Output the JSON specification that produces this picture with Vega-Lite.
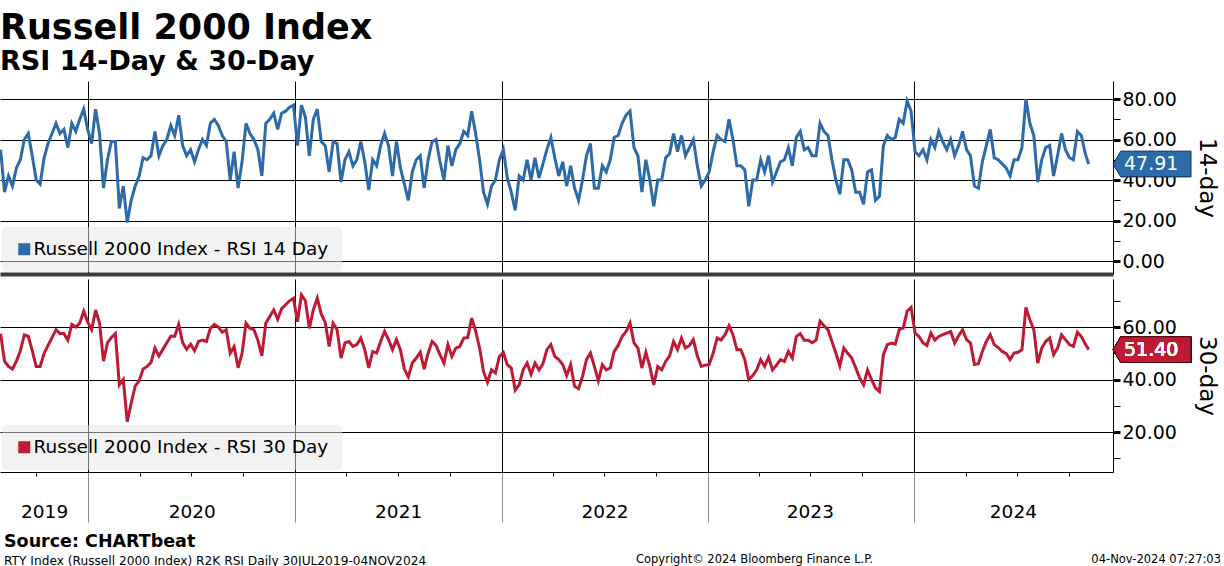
{
"$schema": "https://vega.github.io/schema/vega-lite/v6.json",
"background": "white",
"padding": {"top": 11, "left": 0, "right": 0, "bottom": 0},
"title": {"text": "Russell 2000 Index", "subtitle": "RSI 14-Day & 30-Day", "anchor": "start", "font": "DejaVu Sans", "fontSize": 35, "fontWeight": "bold", "color": "black", "subtitleFont": "DejaVu Sans", "subtitleFontSize": 27, "subtitleFontWeight": "bold", "subtitleColor": "black", "subtitlePadding": 3, "offset": 6},
"datasets": {
"rsi": [
{"date":"2019-07-30","rsi14":55,"rsi30":57.5},{"date":"2019-08-06","rsi14":34,"rsi30":47},{"date":"2019-08-13","rsi14":42,"rsi30":45},{"date":"2019-08-20","rsi14":37,"rsi30":44},{"date":"2019-08-27","rsi14":46,"rsi30":47},{"date":"2019-09-03","rsi14":50,"rsi30":51},{"date":"2019-09-10","rsi14":60,"rsi30":57},{"date":"2019-09-17","rsi14":63,"rsi30":56.5},{"date":"2019-09-24","rsi14":52,"rsi30":51},{"date":"2019-10-01","rsi14":40,"rsi30":45},{"date":"2019-10-08","rsi14":38,"rsi30":45},{"date":"2019-10-15","rsi14":51,"rsi30":50},{"date":"2019-10-22","rsi14":58,"rsi30":53},{"date":"2019-10-29","rsi14":63,"rsi30":56},{"date":"2019-11-05","rsi14":68,"rsi30":59},{"date":"2019-11-12","rsi14":63,"rsi30":57.5},{"date":"2019-11-19","rsi14":65,"rsi30":57.5},{"date":"2019-11-26","rsi14":56,"rsi30":55},{"date":"2019-12-03","rsi14":68,"rsi30":61},{"date":"2019-12-10","rsi14":64,"rsi30":60},{"date":"2019-12-17","rsi14":70,"rsi30":61.5},{"date":"2019-12-24","rsi14":75,"rsi30":66},{"date":"2019-12-31","rsi14":65,"rsi30":62},
{"date":"2020-01-07","rsi14":58,"rsi30":59},{"date":"2020-01-14","rsi14":75,"rsi30":66.5},{"date":"2020-01-21","rsi14":63,"rsi30":61.5},{"date":"2020-01-28","rsi14":36,"rsi30":47},{"date":"2020-02-04","rsi14":50,"rsi30":54},{"date":"2020-02-11","rsi14":59,"rsi30":56},{"date":"2020-02-18","rsi14":59,"rsi30":57.5},{"date":"2020-02-25","rsi14":26,"rsi30":38},{"date":"2020-03-03","rsi14":37,"rsi30":40},{"date":"2020-03-10","rsi14":19,"rsi30":24},{"date":"2020-03-17","rsi14":30,"rsi30":31},{"date":"2020-03-24","rsi14":37,"rsi30":37.5},{"date":"2020-03-31","rsi14":42,"rsi30":39.5},{"date":"2020-04-07","rsi14":51,"rsi30":44},{"date":"2020-04-14","rsi14":50,"rsi30":45},{"date":"2020-04-21","rsi14":52,"rsi30":46.5},{"date":"2020-04-28","rsi14":64,"rsi30":52},{"date":"2020-05-05","rsi14":52,"rsi30":49},{"date":"2020-05-12","rsi14":57,"rsi30":51.5},{"date":"2020-05-19","rsi14":60,"rsi30":54},{"date":"2020-05-26","rsi14":67,"rsi30":56.5},{"date":"2020-06-02","rsi14":62,"rsi30":56.5},{"date":"2020-06-09","rsi14":72,"rsi30":61},{"date":"2020-06-16","rsi14":57,"rsi30":54},{"date":"2020-06-23","rsi14":52,"rsi30":51.5},{"date":"2020-06-30","rsi14":55,"rsi30":53.5},{"date":"2020-07-07","rsi14":49,"rsi30":51},{"date":"2020-07-14","rsi14":55,"rsi30":54.5},{"date":"2020-07-21","rsi14":60,"rsi30":55},{"date":"2020-07-28","rsi14":57,"rsi30":54.5},{"date":"2020-08-04","rsi14":68,"rsi30":59.5},{"date":"2020-08-11","rsi14":70,"rsi30":61},{"date":"2020-08-18","rsi14":67,"rsi30":60},{"date":"2020-08-25","rsi14":62,"rsi30":58},{"date":"2020-09-01","rsi14":59,"rsi30":59},{"date":"2020-09-08","rsi14":40,"rsi30":50},{"date":"2020-09-15","rsi14":54,"rsi30":52.5},{"date":"2020-09-22","rsi14":36,"rsi30":44.5},{"date":"2020-09-29","rsi14":49,"rsi30":50},{"date":"2020-10-06","rsi14":68,"rsi30":61.5},{"date":"2020-10-13","rsi14":63,"rsi30":59.5},{"date":"2020-10-20","rsi14":60,"rsi30":59},{"date":"2020-10-27","rsi14":55,"rsi30":55},{"date":"2020-11-03","rsi14":42,"rsi30":49},{"date":"2020-11-10","rsi14":68,"rsi30":61.5},{"date":"2020-11-17","rsi14":70,"rsi30":64},{"date":"2020-11-24","rsi14":73,"rsi30":66.5},{"date":"2020-12-01","rsi14":65,"rsi30":63},{"date":"2020-12-08","rsi14":73,"rsi30":67},{"date":"2020-12-15","rsi14":74,"rsi30":68.5},{"date":"2020-12-22","rsi14":76,"rsi30":70},{"date":"2020-12-29","rsi14":77,"rsi30":71},
{"date":"2021-01-05","rsi14":57,"rsi30":62},{"date":"2021-01-12","rsi14":77,"rsi30":72.3},{"date":"2021-01-19","rsi14":71,"rsi30":70},{"date":"2021-01-26","rsi14":52,"rsi30":59.5},{"date":"2021-02-02","rsi14":70,"rsi30":66.5},{"date":"2021-02-09","rsi14":75,"rsi30":71},{"date":"2021-02-16","rsi14":59,"rsi30":65},{"date":"2021-02-23","rsi14":57,"rsi30":61.8},{"date":"2021-03-02","rsi14":44,"rsi30":52.6},{"date":"2021-03-09","rsi14":59,"rsi30":61.5},{"date":"2021-03-16","rsi14":58,"rsi30":59},{"date":"2021-03-23","rsi14":39,"rsi30":48.2},{"date":"2021-03-30","rsi14":50,"rsi30":54},{"date":"2021-04-06","rsi14":54,"rsi30":54.5},{"date":"2021-04-13","rsi14":47,"rsi30":52.6},{"date":"2021-04-20","rsi14":50,"rsi30":53.3},{"date":"2021-04-27","rsi14":59,"rsi30":55.8},{"date":"2021-05-04","rsi14":49,"rsi30":51.4},{"date":"2021-05-11","rsi14":35,"rsi30":44.4},{"date":"2021-05-18","rsi14":50,"rsi30":50.7},{"date":"2021-05-25","rsi14":47,"rsi30":50.1},{"date":"2021-06-01","rsi14":57,"rsi30":54.5},{"date":"2021-06-08","rsi14":63,"rsi30":58.3},{"date":"2021-06-15","rsi14":57,"rsi30":55.2},{"date":"2021-06-22","rsi14":42,"rsi30":51.4},{"date":"2021-06-29","rsi14":59,"rsi30":55.2},{"date":"2021-07-06","rsi14":46,"rsi30":51.4},{"date":"2021-07-13","rsi14":38,"rsi30":44},{"date":"2021-07-20","rsi14":30,"rsi30":41},{"date":"2021-07-27","rsi14":44,"rsi30":46.3},{"date":"2021-08-03","rsi14":50,"rsi30":48.2},{"date":"2021-08-10","rsi14":52,"rsi30":50.4},{"date":"2021-08-17","rsi14":36,"rsi30":44},{"date":"2021-08-24","rsi14":50,"rsi30":50.1},{"date":"2021-08-31","rsi14":59,"rsi30":54.5},{"date":"2021-09-07","rsi14":60,"rsi30":53},{"date":"2021-09-14","rsi14":49,"rsi30":49.5},{"date":"2021-09-21","rsi14":40,"rsi30":46.3},{"date":"2021-09-28","rsi14":57,"rsi30":53.3},{"date":"2021-10-05","rsi14":47,"rsi30":48.8},{"date":"2021-10-12","rsi14":55,"rsi30":52},{"date":"2021-10-19","rsi14":58,"rsi30":52.6},{"date":"2021-10-26","rsi14":64,"rsi30":55.8},{"date":"2021-11-02","rsi14":62,"rsi30":56},{"date":"2021-11-09","rsi14":74,"rsi30":63.4},{"date":"2021-11-16","rsi14":63,"rsi30":58.5},{"date":"2021-11-23","rsi14":50,"rsi30":52},{"date":"2021-11-30","rsi14":34,"rsi30":43},{"date":"2021-12-07","rsi14":28,"rsi30":39},{"date":"2021-12-14","rsi14":37,"rsi30":43.7},{"date":"2021-12-21","rsi14":40,"rsi30":42.5},{"date":"2021-12-28","rsi14":50,"rsi30":48.8},
{"date":"2022-01-04","rsi14":55,"rsi30":50.3},{"date":"2022-01-11","rsi14":41,"rsi30":45.7},{"date":"2022-01-18","rsi14":34,"rsi30":44.4},{"date":"2022-01-25","rsi14":25,"rsi30":36},{"date":"2022-02-01","rsi14":42,"rsi30":38},{"date":"2022-02-08","rsi14":40,"rsi30":43.7},{"date":"2022-02-15","rsi14":50,"rsi30":46.3},{"date":"2022-02-22","rsi14":40,"rsi30":42},{"date":"2022-03-01","rsi14":51,"rsi30":46.3},{"date":"2022-03-08","rsi14":41,"rsi30":43.7},{"date":"2022-03-15","rsi14":48,"rsi30":46},{"date":"2022-03-22","rsi14":55,"rsi30":51.4},{"date":"2022-03-29","rsi14":61,"rsi30":53.3},{"date":"2022-04-05","rsi14":51,"rsi30":48.8},{"date":"2022-04-12","rsi14":42,"rsi30":47.6},{"date":"2022-04-19","rsi14":49,"rsi30":45.7},{"date":"2022-04-26","rsi14":37,"rsi30":41.5},{"date":"2022-05-03","rsi14":47,"rsi30":45.7},{"date":"2022-05-10","rsi14":36,"rsi30":37.4},{"date":"2022-05-17","rsi14":30,"rsi30":36.5},{"date":"2022-05-24","rsi14":40,"rsi30":41.2},{"date":"2022-05-31","rsi14":52,"rsi30":47.6},{"date":"2022-06-07","rsi14":58,"rsi30":50.1},{"date":"2022-06-14","rsi14":36,"rsi30":45},{"date":"2022-06-21","rsi14":36,"rsi30":39.5},{"date":"2022-06-28","rsi14":47,"rsi30":45.7},{"date":"2022-07-05","rsi14":44,"rsi30":43.7},{"date":"2022-07-12","rsi14":50,"rsi30":44.4},{"date":"2022-07-19","rsi14":61,"rsi30":50.7},{"date":"2022-07-26","rsi14":62,"rsi30":53},{"date":"2022-08-02","rsi14":68,"rsi30":56.4},{"date":"2022-08-09","rsi14":72,"rsi30":58.3},{"date":"2022-08-16","rsi14":74,"rsi30":61.5},{"date":"2022-08-23","rsi14":56,"rsi30":54},{"date":"2022-08-30","rsi14":52,"rsi30":52},{"date":"2022-09-06","rsi14":34,"rsi30":44.4},{"date":"2022-09-13","rsi14":50,"rsi30":50.4},{"date":"2022-09-20","rsi14":40,"rsi30":45},{"date":"2022-09-27","rsi14":27,"rsi30":38},{"date":"2022-10-04","rsi14":40,"rsi30":45},{"date":"2022-10-11","rsi14":40,"rsi30":43.7},{"date":"2022-10-18","rsi14":51,"rsi30":46.9},{"date":"2022-10-25","rsi14":53,"rsi30":49},{"date":"2022-11-01","rsi14":63,"rsi30":54.5},{"date":"2022-11-08","rsi14":54,"rsi30":51.4},{"date":"2022-11-15","rsi14":62,"rsi30":55.8},{"date":"2022-11-22","rsi14":52,"rsi30":52},{"date":"2022-11-29","rsi14":56,"rsi30":53},{"date":"2022-12-06","rsi14":60,"rsi30":55.2},{"date":"2022-12-13","rsi14":47,"rsi30":49},{"date":"2022-12-20","rsi14":37,"rsi30":45},{"date":"2022-12-27","rsi14":40,"rsi30":45.5},
{"date":"2023-01-03","rsi14":44,"rsi30":45.7},{"date":"2023-01-10","rsi14":54,"rsi30":50.1},{"date":"2023-01-17","rsi14":62,"rsi30":55.8},{"date":"2023-01-24","rsi14":60,"rsi30":55},{"date":"2023-01-31","rsi14":59,"rsi30":57.1},{"date":"2023-02-07","rsi14":70,"rsi30":60.5},{"date":"2023-02-14","rsi14":60,"rsi30":57.1},{"date":"2023-02-21","rsi14":47,"rsi30":51.4},{"date":"2023-02-28","rsi14":47,"rsi30":51.4},{"date":"2023-03-07","rsi14":45,"rsi30":47.6},{"date":"2023-03-14","rsi14":27,"rsi30":40},{"date":"2023-03-21","rsi14":40,"rsi30":41.5},{"date":"2023-03-28","rsi14":40,"rsi30":43.7},{"date":"2023-04-04","rsi14":50,"rsi30":47.6},{"date":"2023-04-11","rsi14":44,"rsi30":45},{"date":"2023-04-18","rsi14":52,"rsi30":48.5},{"date":"2023-04-25","rsi14":39,"rsi30":43.7},{"date":"2023-05-02","rsi14":44,"rsi30":45.5},{"date":"2023-05-09","rsi14":49,"rsi30":47.6},{"date":"2023-05-16","rsi14":50,"rsi30":46.9},{"date":"2023-05-23","rsi14":56,"rsi30":50.7},{"date":"2023-05-30","rsi14":47,"rsi30":48.2},{"date":"2023-06-06","rsi14":61,"rsi30":56.4},{"date":"2023-06-13","rsi14":64,"rsi30":57.5},{"date":"2023-06-20","rsi14":55,"rsi30":55},{"date":"2023-06-27","rsi14":56,"rsi30":55},{"date":"2023-07-04","rsi14":52,"rsi30":54},{"date":"2023-07-11","rsi14":52,"rsi30":55},{"date":"2023-07-18","rsi14":68,"rsi30":62.2},{"date":"2023-07-25","rsi14":64,"rsi30":60.5},{"date":"2023-08-01","rsi14":62,"rsi30":59},{"date":"2023-08-08","rsi14":50,"rsi30":54.5},{"date":"2023-08-15","rsi14":40,"rsi30":50.1},{"date":"2023-08-22","rsi14":33,"rsi30":45.2},{"date":"2023-08-29","rsi14":50,"rsi30":52},{"date":"2023-09-05","rsi14":50,"rsi30":50},{"date":"2023-09-12","rsi14":45,"rsi30":48.2},{"date":"2023-09-19","rsi14":34,"rsi30":44.5},{"date":"2023-09-26","rsi14":34,"rsi30":40.6},{"date":"2023-10-03","rsi14":28,"rsi30":38},{"date":"2023-10-10","rsi14":44,"rsi30":43.7},{"date":"2023-10-17","rsi14":45,"rsi30":40},{"date":"2023-10-24","rsi14":30,"rsi30":36.8},{"date":"2023-10-31","rsi14":32,"rsi30":35.5},{"date":"2023-11-07","rsi14":57,"rsi30":49.5},{"date":"2023-11-14","rsi14":62,"rsi30":53.3},{"date":"2023-11-21","rsi14":60,"rsi30":53.9},{"date":"2023-11-28","rsi14":61,"rsi30":53.5},{"date":"2023-12-05","rsi14":70,"rsi30":59},{"date":"2023-12-12","rsi14":68,"rsi30":59.6},{"date":"2023-12-19","rsi14":79,"rsi30":66},{"date":"2023-12-26","rsi14":74,"rsi30":67.5},
{"date":"2024-01-02","rsi14":54,"rsi30":57.7},{"date":"2024-01-09","rsi14":52,"rsi30":56.4},{"date":"2024-01-16","rsi14":55,"rsi30":54},{"date":"2024-01-23","rsi14":50,"rsi30":53},{"date":"2024-01-30","rsi14":60,"rsi30":57.7},{"date":"2024-02-06","rsi14":56,"rsi30":55},{"date":"2024-02-13","rsi14":64,"rsi30":56.4},{"date":"2024-02-20","rsi14":59,"rsi30":57.1},{"date":"2024-02-27","rsi14":55,"rsi30":57.7},{"date":"2024-03-05","rsi14":60,"rsi30":58.3},{"date":"2024-03-12","rsi14":52,"rsi30":53.9},{"date":"2024-03-19","rsi14":57,"rsi30":56.7},{"date":"2024-03-26","rsi14":64,"rsi30":59},{"date":"2024-04-02","rsi14":55,"rsi30":55.2},{"date":"2024-04-09","rsi14":52,"rsi30":53.9},{"date":"2024-04-16","rsi14":37,"rsi30":45.7},{"date":"2024-04-23","rsi14":36,"rsi30":46},{"date":"2024-04-30","rsi14":49,"rsi30":50.7},{"date":"2024-05-07","rsi14":57,"rsi30":54.5},{"date":"2024-05-14","rsi14":65,"rsi30":57.1},{"date":"2024-05-21","rsi14":51,"rsi30":53.3},{"date":"2024-05-28","rsi14":50,"rsi30":52.2},{"date":"2024-06-04","rsi14":48,"rsi30":50.7},{"date":"2024-06-11","rsi14":46,"rsi30":50},{"date":"2024-06-18","rsi14":42,"rsi30":47.6},{"date":"2024-06-25","rsi14":50,"rsi30":50.1},{"date":"2024-07-02","rsi14":50,"rsi30":50.4},{"date":"2024-07-09","rsi14":56,"rsi30":51.4},{"date":"2024-07-16","rsi14":80,"rsi30":67.5},{"date":"2024-07-23","rsi14":68,"rsi30":62.8},{"date":"2024-07-30","rsi14":62,"rsi30":59},{"date":"2024-08-06","rsi14":39,"rsi30":46.3},{"date":"2024-08-13","rsi14":50,"rsi30":52},{"date":"2024-08-20","rsi14":56,"rsi30":54.5},{"date":"2024-08-27","rsi14":57,"rsi30":55.8},{"date":"2024-09-03","rsi14":42,"rsi30":49.5},{"date":"2024-09-10","rsi14":52,"rsi30":52},{"date":"2024-09-17","rsi14":63,"rsi30":57},{"date":"2024-09-24","rsi14":55,"rsi30":55.2},{"date":"2024-10-01","rsi14":51,"rsi30":53.3},{"date":"2024-10-08","rsi14":50,"rsi30":52.6},{"date":"2024-10-15","rsi14":64,"rsi30":58},{"date":"2024-10-22","rsi14":62,"rsi30":56.4},{"date":"2024-10-29","rsi14":53,"rsi30":53.5},{"date":"2024-11-04","rsi14":47.91,"rsi30":51.40}
]
},
"spacing": 5,
"resolve": {"scale": {"x": "independent", "y": "independent", "color": "independent"}, "legend": {"color": "independent"}},
"vconcat": [
{
"width": 1113, "height": 193,
"data": {"name": "rsi"},
"encoding": {
  "x": {"field": "date", "type": "temporal",
        "scale": {"domain": [{"year": 2019, "month": 7, "date": 29}, {"year": 2024, "month": 12, "date": 17}]},
        "axis": {"values": [{"year": 2020, "month": 1, "date": 1}, {"year": 2021, "month": 1, "date": 1}, {"year": 2022, "month": 1, "date": 1}, {"year": 2023, "month": 1, "date": 1}, {"year": 2024, "month": 1, "date": 1}],
                 "labels": false, "ticks": false, "domain": true, "domainColor": "#3d3d3d", "domainWidth": 4, "grid": true, "gridColor": "black", "gridWidth": 1, "gridOpacity": 1, "title": null}},
  "y": {"field": "rsi14", "type": "quantitative",
        "scale": {"domain": [-6.4, 88.9], "nice": false, "zero": false},
        "axis": {"orient": "right", "values": [0,10,20,30,40,50,60,70,80],
                 "labelExpr": "datum.value % 20 == 0 ? format(datum.value, '.2f') : ''",
                 "grid": true, "gridColor": "black", "gridWidth": 1,
                 "gridOpacity": {"condition": {"test": "datum.value % 20 != 0", "value": 0}, "value": 1},
                 "tickSize": 7, "tickColor": "black",
                 "tickWidth": {"condition": {"test": "datum.value % 20 == 0", "value": 3}, "value": 1},
                 "domainColor": "black", "labelPadding": 2, "labelFontSize": 19, "labelColor": "black", "labelOverlap": false, "labelFlush": false,
                 "title": "14-day", "titleAngle": 90, "titleFontSize": 23, "titleFontWeight": "normal", "titleColor": "black", "titlePadding": 18}}
},
"layer": [
  {"mark": {"type": "line", "strokeWidth": 3, "clip": true},
   "encoding": {"color": {"datum": "Russell 2000 Index - RSI 14 Day", "type": "nominal", "scale": {"range": ["#2c6aa9"]},
     "legend": {"title": null, "orient": "bottom-left", "offset": 2, "fillColor": "rgba(229,229,229,0.5)", "cornerRadius": 4, "padding": 13,
                "symbolType": "square", "symbolSize": 144, "labelFontSize": 18.5, "labelFont": "DejaVu Sans", "labelColor": "black", "labelLimit": 0, "labelOffset": 0,
                "encode": {"symbols": {"update": {"fill": {"value": "#2c6aa9"}, "stroke": {"value": "transparent"}, "strokeWidth": {"value": 0}}}}}}}},
  {"transform": [{"filter": "datum.rsi14 == 47.91"}],
   "mark": {"type": "point", "shape": "M0,0L0.2,-0.33L2,-0.33L2,0.33L0.2,0.33Z", "size": 6084, "filled": true, "fill": "#2c6aa9", "stroke": "#0f2a47", "strokeWidth": 1, "opacity": 1},
   "encoding": {"x": {"value": "width"}}},
  {"transform": [{"filter": "datum.rsi14 == 47.91"}],
   "mark": {"type": "text", "align": "left", "baseline": "middle", "dx": 11, "fontSize": 19, "font": "DejaVu Sans", "color": "white"},
   "encoding": {"x": {"value": "width"}, "text": {"field": "rsi14", "type": "quantitative", "format": ".2f"}}}
]
},
{
"width": 1113, "height": 193,
"data": {"name": "rsi"},
"encoding": {
  "x": {"field": "date", "type": "temporal",
        "scale": {"domain": [{"year": 2019, "month": 7, "date": 29}, {"year": 2024, "month": 12, "date": 17}]},
        "axis": {"values": [
            {"year": 2019, "month": 10, "date": 1}, {"year": 2019, "month": 10, "date": 15},
            {"year": 2020, "month": 1, "date": 1}, {"year": 2020, "month": 4, "date": 1}, {"year": 2020, "month": 7, "date": 1}, {"year": 2020, "month": 7, "date": 2}, {"year": 2020, "month": 10, "date": 1},
            {"year": 2021, "month": 1, "date": 1}, {"year": 2021, "month": 4, "date": 1}, {"year": 2021, "month": 7, "date": 1}, {"year": 2021, "month": 7, "date": 2}, {"year": 2021, "month": 10, "date": 1},
            {"year": 2022, "month": 1, "date": 1}, {"year": 2022, "month": 4, "date": 1}, {"year": 2022, "month": 7, "date": 1}, {"year": 2022, "month": 7, "date": 2}, {"year": 2022, "month": 10, "date": 1},
            {"year": 2023, "month": 1, "date": 1}, {"year": 2023, "month": 4, "date": 1}, {"year": 2023, "month": 6, "date": 30}, {"year": 2023, "month": 7, "date": 1}, {"year": 2023, "month": 10, "date": 1},
            {"year": 2024, "month": 1, "date": 1}, {"year": 2024, "month": 4, "date": 1}, {"year": 2024, "month": 6, "date": 23}, {"year": 2024, "month": 7, "date": 1}, {"year": 2024, "month": 10, "date": 1}],
                 "domain": true, "domainColor": "black", "domainWidth": 1,
                 "ticks": true,
                 "tickSize": {"condition": {"test": "month(datum.value) == 0 && date(datum.value) == 1", "value": 50}, "value": 4},
                 "tickColor": {"condition": {"test": "month(datum.value) == 0 && date(datum.value) == 1", "value": "#8c8c8c"}, "value": "black"},
                 "tickOpacity": {"condition": {"test": "date(datum.value) != 1", "value": 0}, "value": 1},
                 "grid": true, "gridColor": "black", "gridWidth": 1,
                 "gridOpacity": {"condition": {"test": "month(datum.value) == 0 && date(datum.value) == 1", "value": 1}, "value": 0},
                 "labels": true,
                 "labelExpr": "date(datum.value) != 1 ? timeFormat(datum.value, '%Y') : ''",
                 "labelPadding": {"condition": {"test": "month(datum.value) == 0 && date(datum.value) == 1", "value": -13}, "value": 26},
                 "labelOverlap": false, "labelFlush": false, "labelFontSize": 18.5, "labelColor": "black",
                 "title": null}},
  "y": {"field": "rsi30", "type": "quantitative",
        "scale": {"domain": [4.8, 78.3], "nice": false, "zero": false},
        "axis": {"orient": "right", "values": [10,20,30,40,50,60,70],
                 "labelExpr": "datum.value % 20 == 0 ? format(datum.value, '.2f') : ''",
                 "grid": true, "gridColor": "black", "gridWidth": 1,
                 "gridOpacity": {"condition": {"test": "datum.value % 20 != 0", "value": 0}, "value": 1},
                 "tickSize": 7, "tickColor": "black",
                 "tickWidth": {"condition": {"test": "datum.value % 20 == 0", "value": 3}, "value": 1},
                 "domainColor": "black", "labelPadding": 2, "labelFontSize": 19, "labelColor": "black", "labelOverlap": false, "labelFlush": false,
                 "title": "30-day", "titleAngle": 90, "titleFontSize": 23, "titleFontWeight": "normal", "titleColor": "black", "titlePadding": 18}}
},
"layer": [
  {"mark": {"type": "line", "strokeWidth": 3, "clip": true},
   "encoding": {"color": {"datum": "Russell 2000 Index - RSI 30 Day", "type": "nominal", "scale": {"range": ["#be1a33"]},
     "legend": {"title": null, "orient": "bottom-left", "offset": 2, "fillColor": "rgba(229,229,229,0.5)", "cornerRadius": 4, "padding": 13,
                "symbolType": "square", "symbolSize": 144, "labelFontSize": 18.5, "labelFont": "DejaVu Sans", "labelColor": "black", "labelLimit": 0, "labelOffset": 0,
                "encode": {"symbols": {"update": {"fill": {"value": "#be1a33"}, "stroke": {"value": "transparent"}, "strokeWidth": {"value": 0}}}}}}}},
  {"transform": [{"filter": "datum.rsi30 == 51.4"}],
   "mark": {"type": "point", "shape": "M0,0L0.2,-0.33L2,-0.33L2,0.33L0.2,0.33Z", "size": 6084, "filled": true, "fill": "#be1a33", "stroke": "#4a0a14", "strokeWidth": 1, "opacity": 1},
   "encoding": {"x": {"value": "width"}}},
  {"transform": [{"filter": "datum.rsi30 == 51.4"}],
   "mark": {"type": "text", "align": "left", "baseline": "middle", "dx": 11, "fontSize": 19, "font": "DejaVu Sans", "color": "white"},
   "encoding": {"x": {"value": "width"}, "text": {"field": "rsi30", "type": "quantitative", "format": ".2f"}}}
]
},
{
"width": 1221, "height": 14,
"title": {"text": "Source: CHARTbeat", "subtitle": "RTY Index (Russell 2000 Index) R2K RSI  Daily 30JUL2019-04NOV2024", "anchor": "start", "orient": "top", "offset": -14, "dx": 4,
          "font": "DejaVu Sans", "fontSize": 17.5, "fontWeight": "bold", "color": "black",
          "subtitleFont": "DejaVu Sans", "subtitleFontSize": 12.2, "subtitleColor": "black", "subtitlePadding": 4},
"layer": [
  {"data": {"values": [{"t": "Copyright© 2024 Bloomberg Finance L.P."}]},
   "mark": {"type": "text", "align": "center", "baseline": "middle", "dx": 144, "fontSize": 11.5, "font": "DejaVu Sans", "color": "black"},
   "encoding": {"text": {"field": "t"}}},
  {"data": {"values": [{"t": "04-Nov-2024 07:27:03"}]},
   "mark": {"type": "text", "align": "right", "baseline": "middle", "fontSize": 11.5, "font": "DejaVu Sans", "color": "black"},
   "encoding": {"text": {"field": "t"}, "x": {"value": "width"}}}
]
}
],
"config": {
  "view": {"stroke": null},
  "axis": {"labelFont": "DejaVu Sans", "titleFont": "DejaVu Sans"},
  "legend": {"labelFont": "DejaVu Sans"},
  "text": {"font": "DejaVu Sans"}
}
}
